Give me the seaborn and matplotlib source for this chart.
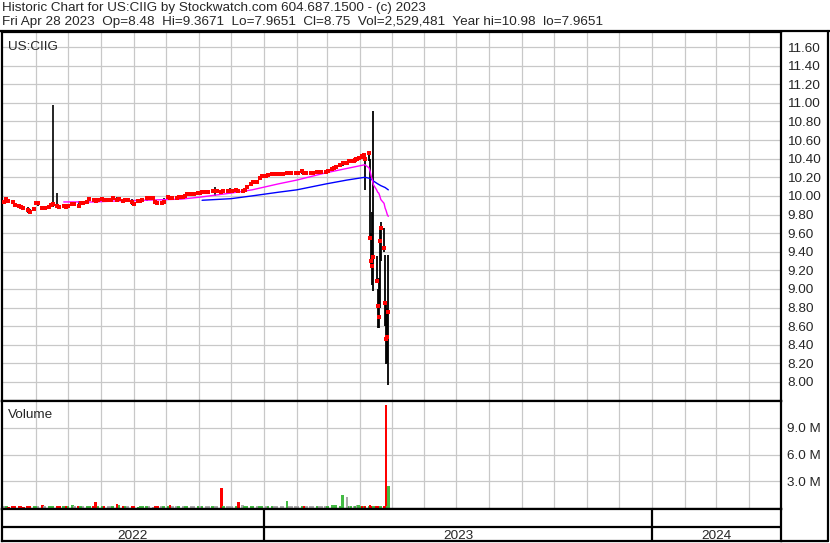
import pandas as pd
import matplotlib
matplotlib.use("Agg")
import matplotlib.pyplot as plt
from matplotlib.lines import Line2D
import seaborn as sns

# ---------------- data ----------------
# closes on every second trading day, 2 May 2022 .. 22 Mar 2023
close_sparse = [
    9.93, 9.97, 9.95, 9.93, 9.90, 9.89, 9.88, 9.87, 9.85, 9.83, 9.86,            # May
    9.92, 9.92, 9.87, 9.87, 9.88, 9.90, 9.91, 9.89, 9.88, 9.89, 9.88,            # Jun
    9.89, 9.91, 9.91, 9.89, 9.92, 9.92, 9.93, 9.97, 9.96, 9.95, 9.96,            # Jul
    9.97, 9.96, 9.96, 9.96, 9.98, 9.96, 9.97, 9.95, 9.96, 9.96, 9.93,            # Aug
    9.91, 9.94, 9.95, 9.96, 9.98, 9.98, 9.98, 9.93, 9.92, 9.92, 9.93,            # Sep
    9.99, 9.98, 9.98, 9.98, 9.99, 9.99, 10.00, 10.02, 10.02, 10.02, 10.03,       # Oct
    10.03, 10.04, 10.04, 10.04, 10.05, 10.05, 10.05, 10.04, 10.05, 10.05, 10.05, # Nov
    10.05, 10.06, 10.05, 10.05, 10.06, 10.10, 10.13, 10.15, 10.15, 10.19, 10.21, # Dec
    10.21, 10.23, 10.24, 10.24, 10.24, 10.24, 10.24, 10.25, 10.25, 10.25, 10.25, # Jan
    10.25, 10.27, 10.25, 10.25, 10.25, 10.25, 10.26, 10.26, 10.26, 10.26,        # Feb
    10.27, 10.29, 10.30, 10.31, 10.33, 10.35, 10.35, 10.37,                      # Mar
]
# volume in millions of shares
vol_sparse = [
    0.20, 0.20, 0.15, 0.20, 0.20, 0.20, 0.20, 0.15, 0.20, 0.20, 0.22,
    0.20, 0.20, 0.40, 0.20, 0.22, 0.25, 0.25, 0.25, 0.20, 0.22, 0.20,
    0.20, 0.30, 0.20, 0.22, 0.20, 0.20, 0.20, 0.20, 0.20, 0.70, 0.20,
    0.20, 0.20, 0.20, 0.20, 0.25, 0.45, 0.40, 0.25, 0.20, 0.20, 0.20,
    0.20, 0.15, 0.20, 0.20, 0.20, 0.20, 0.15, 0.20, 0.20, 0.20, 0.20,
    0.22, 0.40, 0.20, 0.20, 0.22, 0.20, 0.20, 0.20, 0.20, 0.20, 0.22,
    0.20, 0.20, 0.20, 0.20, 0.22, 0.20, 0.20, 2.20, 0.20, 0.20, 0.20,
    0.20, 0.20, 0.70, 0.30, 0.20, 0.25, 0.25, 0.25, 0.20, 0.25, 0.20,
    0.20, 0.20, 0.20, 0.20, 0.20, 0.20, 0.20, 0.80, 0.20, 0.20, 0.22,
    0.20, 0.22, 0.20, 0.20, 0.20, 0.20, 0.20, 0.20, 0.20, 0.22,
    0.20, 0.30, 0.35, 0.30, 0.20, 1.50, 1.30, 0.25,
]

# intraday ranges visible on the quiet days
wick_dates = ["2022-05-24", "2022-05-26", "2022-06-03", "2022-06-17", "2022-06-21",
              "2022-07-11", "2022-08-16", "2022-08-30", "2022-09-13", "2022-09-29",
              "2022-11-16", "2022-11-30", "2023-01-03", "2023-02-06", "2023-03-10",
              "2023-03-16"]
wick_high = [9.88, 9.86, 9.95, 10.98, 10.03, 9.95, 9.99, 9.97, 10.00, 9.98,
             10.10, 10.08, 10.23, 10.29, 10.33, 10.37]
wick_low = [9.82, 9.82, 9.89, 9.88, 9.88, 9.89, 9.93, 9.90, 9.94, 9.91,
            10.00, 10.03, 10.19, 10.24, 10.29, 10.32]

# daily bars for the last five weeks
daily_dates = ["2023-03-23", "2023-03-24", "2023-03-27", "2023-03-28", "2023-03-29",
               "2023-03-30", "2023-03-31", "2023-04-03", "2023-04-04", "2023-04-05",
               "2023-04-06", "2023-04-10", "2023-04-11", "2023-04-12", "2023-04-13",
               "2023-04-14", "2023-04-17", "2023-04-18", "2023-04-19", "2023-04-20",
               "2023-04-21", "2023-04-24", "2023-04-25", "2023-04-26", "2023-04-27",
               "2023-04-28"]
daily_close = [10.37, 10.38, 10.38, 10.39, 10.40, 10.40, 10.41, 10.43, 10.42, 10.44,
               10.40, 10.46, 9.55, 9.30, 9.25, 9.34, 9.09, 8.82, 8.70, 9.52,
               9.65, 9.44, 8.85, 8.46, 8.48, 8.75]
daily_high = [10.38, 10.39, 10.39, 10.41, 10.41, 10.42, 10.42, 10.45, 10.45, 10.46,
              10.44, 10.47, 10.40, 9.60, 9.83, 10.91, 9.35, 9.00, 9.12, 9.66,
              9.72, 9.66, 9.36, 8.85, 8.80, 9.3671]
daily_low = [10.36, 10.37, 10.36, 10.38, 10.39, 10.39, 10.40, 10.42, 10.40, 10.42,
             10.06, 10.38, 9.55, 9.25, 9.04, 8.98, 9.08, 8.58, 8.58, 8.80,
             9.30, 9.40, 8.60, 8.19, 8.20, 7.9651]
daily_vol = [0.20, 0.20, 0.22, 0.20, 0.20, 0.40, 0.35, 0.20, 0.22, 0.20,
             0.20, 0.20, 0.30, 0.25, 0.22, 0.25, 0.22, 0.25, 0.22, 0.22,
             0.22, 0.22, 0.25, 11.60, 0.25, 2.53]

# moving averages
ma_fast_dates = ["2022-06-27", "2022-07-25", "2022-08-15", "2022-09-15", "2022-10-15",
                 "2022-11-01", "2022-12-01", "2022-12-21", "2023-01-15", "2023-02-01",
                 "2023-02-15", "2023-03-01", "2023-03-20", "2023-04-06", "2023-04-10",
                 "2023-04-11", "2023-04-12", "2023-04-13", "2023-04-14", "2023-04-17",
                 "2023-04-18", "2023-04-19", "2023-04-20", "2023-04-21", "2023-04-24",
                 "2023-04-25", "2023-04-26", "2023-04-27", "2023-04-28"]
ma_fast = [9.935, 9.935, 9.945, 9.955, 9.965, 9.985, 10.03, 10.065, 10.13, 10.17,
           10.21, 10.25, 10.295, 10.335, 10.30, 10.26, 10.21, 10.17, 10.12, 10.065,
           10.04, 10.03, 10.00, 9.96, 9.92, 9.87, 9.84, 9.80, 9.78]
ma_slow_dates = ["2022-11-04", "2022-12-01", "2022-12-21", "2023-01-15", "2023-02-01",
                 "2023-03-01", "2023-03-20", "2023-04-03", "2023-04-06", "2023-04-10",
                 "2023-04-12", "2023-04-14", "2023-04-18", "2023-04-21", "2023-04-25",
                 "2023-04-28"]
ma_slow = [9.953, 9.97, 10.00, 10.04, 10.065, 10.13, 10.17, 10.195, 10.20, 10.19,
           10.18, 10.16, 10.13, 10.11, 10.09, 10.065]

price_ticks = [8.00, 8.20, 8.40, 8.60, 8.80, 9.00, 9.20, 9.40, 9.60, 9.80, 10.00,
               10.20, 10.40, 10.60, 10.80, 11.00, 11.20, 11.40, 11.60]
vol_ticks = [3.0, 6.0, 9.0]
vol_labels = ["3.0 M", "6.0 M", "9.0 M"]
years = ["2022", "2023", "2024"]

header1 = "Historic Chart for US:CIIG by Stockwatch.com 604.687.1500 - (c) 2023"
header2 = ("Fri Apr 28 2023  Op=8.48  Hi=9.3671  Lo=7.9651  Cl=8.75  "
           "Vol=2,529,481  Year hi=10.98  lo=7.9651")

# ---------------- build the table ----------------
sparse_dates = pd.bdate_range("2022-05-02", "2023-03-22", freq="2B")
df = pd.DataFrame({
    "date": list(sparse_dates) + list(pd.to_datetime(daily_dates)),
    "close": close_sparse + daily_close,
    "vol": vol_sparse + daily_vol,
})
chg = df["close"].diff().fillna(0)
df["col"] = ["#ff0000" if c < -1e-9 else ("#44bb44" if c > 1e-9 else "#aaaaaa") for c in chg]

sns.set_style("white")
plt.rcParams["font.family"] = ["Liberation Sans", "DejaVu Sans"]
FS = 9.7
GRID = "#c8c8c8"

W, H = 830, 543
fig = plt.figure(figsize=(W / 100, H / 100), dpi=100)


def rect(x0, y0, x1, y1):
    return [x0 / W, 1 - y1 / H, (x1 - x0) / W, (y1 - y0) / H]


xmin, xmax = pd.Timestamp("2022-04-30"), pd.Timestamp("2024-05-01")
month_lines = pd.date_range("2022-06-01", "2024-04-01", freq="MS")

ax_p = fig.add_axes(rect(2, 32, 781, 401))
ax_v = fig.add_axes(rect(2, 401, 781, 509))
ax_b = fig.add_axes(rect(2, 509, 781, 541))

for ax in (ax_p, ax_v, ax_b):
    ax.set_xlim(xmin, xmax)
    ax.set_facecolor("white")
    for s in ax.spines.values():
        s.set_color("black")
        s.set_linewidth(1.6)
    ax.tick_params(axis="x", length=0, labelbottom=False)

# price panel
ax_p.set_ylim(7.795, 11.762)
ax_p.set_xticks(month_lines)
ax_p.set_yticks(price_ticks)
ax_p.set_yticklabels([f"{t:.2f}" for t in price_ticks], fontsize=FS)
ax_p.yaxis.tick_right()
ax_p.tick_params(axis="y", length=0, pad=4.5)
ax_p.grid(True, color=GRID, lw=0.9)
ax_p.set_axisbelow(True)

ax_p.vlines(pd.to_datetime(wick_dates), wick_low, wick_high, color="black", lw=1.2)
ax_p.vlines(pd.to_datetime(daily_dates), daily_low, daily_high, color="black", lw=1.3)
sns.lineplot(x=pd.to_datetime(ma_slow_dates), y=ma_slow, color="#0000ff", lw=1.0, ax=ax_p)
sns.lineplot(x=pd.to_datetime(ma_fast_dates), y=ma_fast, color="#ff00ff", lw=1.0, ax=ax_p)
sns.scatterplot(data=df, x="date", y="close", marker="s", color="#ff0000", s=7,
                linewidth=0, ax=ax_p, zorder=3)
ax_p.set_xlabel("")
ax_p.set_ylabel("")
ax_p.text(0.008, 0.975, "US:CIIG", transform=ax_p.transAxes, fontsize=FS, va="top")

# volume panel
ax_v.set_ylim(-0.1, 12.0)
ax_v.bar(df["date"], df["vol"], width=2.4, color=df["col"], linewidth=0)
ax_v.set_xticks(month_lines)
ax_v.set_yticks(vol_ticks)
ax_v.set_yticklabels(vol_labels, fontsize=FS)
ax_v.yaxis.tick_right()
ax_v.tick_params(axis="y", length=0, pad=4.5)
ax_v.grid(True, color=GRID, lw=0.9)
ax_v.set_axisbelow(True)
ax_v.text(0.008, 0.93, "Volume", transform=ax_v.transAxes, fontsize=FS, va="top")

# year band
ax_b.set_ylim(0, 1)
ax_b.set_yticks([])
ax_b.axhline((541 - 527) / 32, color="black", lw=1.6)
bounds = [xmin, pd.Timestamp("2023-01-01"), pd.Timestamp("2024-01-01"), xmax]
for b in bounds[1:-1]:
    ax_b.axvline(b, color="black", lw=1.6)
for i, y in enumerate(years):
    mid = bounds[i] + (bounds[i + 1] - bounds[i]) / 2
    ax_b.text(mid, 0.17, y, ha="center", va="center", fontsize=FS)

# header and outer frame
fig.text(2 / W, 1 - 8 / H, header1, fontsize=FS, va="center")
fig.text(2 / W, 1 - 22 / H, header2, fontsize=FS, va="center")
for (x0, y0, x1, y1) in [(0, 31, W, 31), (828, 31, 828, 541), (781, 541, 828, 541)]:
    fig.add_artist(Line2D([x0 / W, x1 / W], [1 - y0 / H, 1 - y1 / H],
                          color="black", lw=1.6))

fig.savefig("out.png", dpi=100)
